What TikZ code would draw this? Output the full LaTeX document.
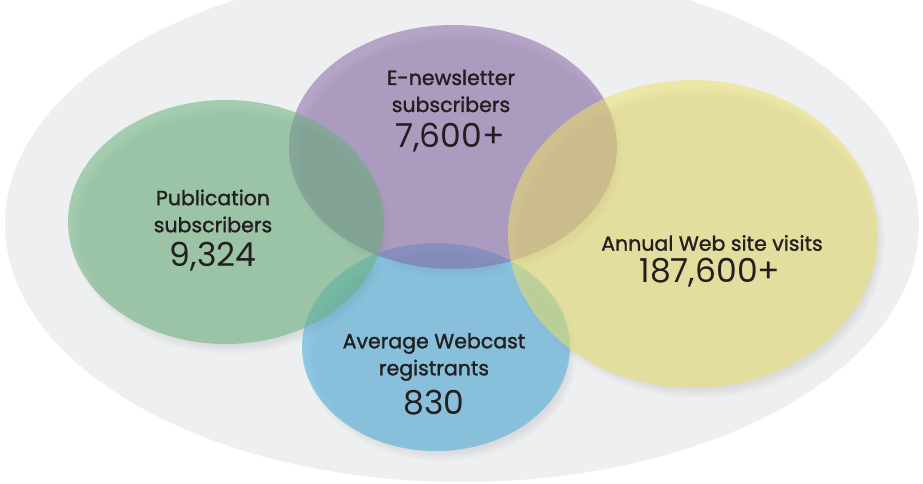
\documentclass[tikz,border=0pt]{standalone}
\usepackage{fontspec}
\setmainfont{Poppins}
\newfontfamily\lblfont{Poppins}[FakeBold=1.4]
\usetikzlibrary{shapes.geometric}

\definecolor{backdrop}{RGB}{238,239,241}
\definecolor{pubgreen}{RGB}{104,176,122}
\definecolor{newspurple}{RGB}{134,104,166}
\definecolor{webyellow}{RGB}{236,226,106}
\definecolor{castblue}{RGB}{70,170,218}
\definecolor{txt}{RGB}{35,31,32}

\tikzset{
    bubble/.style = {ellipse, draw=none, inner sep=0pt, fill opacity=0.55},
    lbl/.style    = {align=center, text=txt, inner sep=0pt,
                     font=\lblfont\fontsize{20.5}{27}\selectfont},
    num/.style    = {text=txt, inner sep=0pt, font=\fontsize{33}{33}\selectfont},
}

\begin{document}
\begin{tikzpicture}[x=1pt, y=-1pt]
    \useasboundingbox (0,0) rectangle (923,484);
    \clip (0,0) rectangle (923,484);
    \fill[white] (0,0) rectangle (923,484);

    % grey backdrop
    \fill[backdrop] (462,224) ellipse (457 and 258);

    % soft shadows under the bubbles
    \foreach \cx/\cy/\rx/\ry in {436/347/134/104, 453/147/164/122,
                                 226/222/158/122, 693/234/185/154}
        {
            \foreach \g in {0,2,...,8}
                \fill[black, opacity=0.014] (\cx+5,\cy+8) ellipse ({\rx-6+\g} and {\ry-6+\g});
        }

    % the four bubbles, back to front
    \foreach \n/\cx/\cy/\rx/\ry/\c in {cast/436/347/134/104/castblue,
                                       news/453/147/164/122/newspurple,
                                       pub/226/222/158/122/pubgreen,
                                       web/693/234/185/154/webyellow}
        {
            \node[bubble, fill=\c, minimum width={(2*\rx)*1pt},
                  minimum height={(2*\ry)*1pt}] (\n) at (\cx,\cy) {};
        }

    % labels and figures
    \node[lbl] (newslbl) at (451,91)  {E-newsletter\\subscribers};
    \node[num] (newsnum) at (450,138) {7,600+};
    \node[lbl] (publbl)  at (213,211) {Publication\\subscribers};
    \node[num] (pubnum)  at (213,257) {9,324};
    \node[lbl] (weblbl)  at (712,243) {Annual Web site visits};
    \node[num] (webnum)  at (710,273) {187,600+};
    \node[lbl] (castlbl) at (434,357) {Average Webcast\\registrants};
    \node[num] (castnum) at (434,403) {830};
\end{tikzpicture}
\end{document}
